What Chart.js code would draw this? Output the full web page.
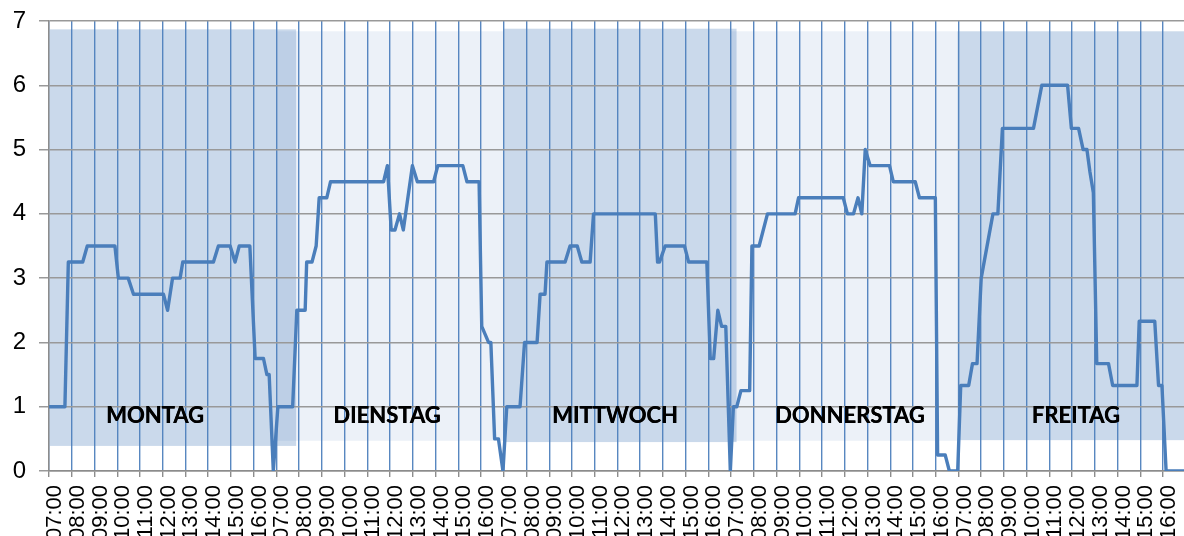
<!DOCTYPE html>
<html lang="de">
<head>
<meta charset="utf-8">
<title>Wochenverlauf</title>
<script src="https://cdn.jsdelivr.net/npm/chart.js@4.4.1/dist/chart.umd.min.js"></script>
<style>
  html, body { margin: 0; padding: 0; background: #ffffff; }
  #wrap { position: relative; width: 1184px; height: 536px; overflow: hidden; }
</style>
</head>
<body>
<div id="wrap"><canvas id="chart" width="1184" height="536"></canvas></div>
<script>
// Wochentage und Achsenbeschriftung
const tage = ['MONTAG', 'DIENSTAG', 'MITTWOCH', 'DONNERSTAG', 'FREITAG'];
const stundenLabels = ['07:00', '08:00', '09:00', '10:00', '11:00', '12:00', '13:00', '14:00', '15:00', '16:00'];
const yWerte = [0, 1, 2, 3, 4, 5, 6, 7];

// Messwerte je Tag: Uhrzeit und Wert
const montagZeit = ['07:00', '07:42', '07:51', '08:29', '08:41', '09:54', '10:03', '10:29', '10:43', '12:02', '12:13', '12:26', '12:46', '12:53', '14:14', '14:27', '14:58', '15:11', '15:22', '15:50', '16:04', '16:26', '16:35', '16:41', '16:52'];
const montagWert = [1, 1, 3.25, 3.25, 3.5, 3.5, 3, 3, 2.75, 2.75, 2.5, 3, 3, 3.25, 3.25, 3.5, 3.5, 3.25, 3.5, 3.5, 1.75, 1.75, 1.5, 1.5, 0];

const dienstagZeit = ['07:04', '07:43', '07:54', '08:16', '08:20', '08:34', '08:45', '08:53', '09:13', '09:23', '11:43', '11:53', '12:03', '12:13', '12:25', '12:35', '12:59', '13:12', '13:55', '14:06', '15:12', '15:23', '15:55', '16:02', '16:20', '16:26', '16:36', '16:46', '16:58'];
const dienstagWert = [1, 1, 2.5, 2.5, 3.25, 3.25, 3.5, 4.25, 4.25, 4.5, 4.5, 4.75, 3.75, 3.75, 4, 3.75, 4.75, 4.5, 4.5, 4.75, 4.75, 4.5, 4.5, 2.25, 2, 2, 0.5, 0.5, 0];

const mittwochZeit = ['07:08', '07:43', '07:55', '08:28', '08:36', '08:49', '08:54', '09:42', '09:55', '10:14', '10:26', '10:48', '10:57', '13:40', '13:46', '13:51', '14:06', '14:57', '15:08', '15:56', '16:05', '16:14', '16:25', '16:35', '16:46', '16:58'];
const mittwochWert = [1, 1, 2, 2, 2.75, 2.75, 3.25, 3.25, 3.5, 3.5, 3.25, 3.25, 4, 4, 3.25, 3.25, 3.5, 3.5, 3.25, 3.25, 1.75, 1.75, 2.5, 2.25, 2.25, 0];

const donnerstagZeit = ['07:06', '07:15', '07:26', '07:49', '07:55', '08:14', '08:36', '09:49', '09:58', '11:56', '12:07', '12:23', '12:35', '12:45', '12:54', '13:07', '13:58', '14:08', '15:06', '15:17', '15:59', '16:05', '16:25', '16:36', '16:58'];
const donnerstagWert = [1, 1, 1.25, 1.25, 3.5, 3.5, 4, 4, 4.25, 4.25, 4, 4, 4.25, 4, 5, 4.75, 4.75, 4.5, 4.5, 4.25, 4.25, 0.25, 0.25, 0, 0];

const freitagZeit = ['07:06', '07:27', '07:37', '07:49', '08:00', '08:31', '08:44', '08:56', '10:18', '10:40', '11:48', '11:58', '12:17', '12:29', '12:39', '12:47', '12:56', '13:05', '13:36', '13:47', '14:51', '14:57', '15:38', '15:48', '15:57', '16:08', '16:56'];
const freitagWert = [1.33, 1.33, 1.67, 1.67, 3, 4, 4, 5.33, 5.33, 6, 6, 5.33, 5.33, 5, 5, 4.65, 4.33, 1.67, 1.67, 1.33, 1.33, 2.33, 2.33, 1.33, 1.33, 0, 0];

// Hinterlegte Tagesflächen (Stunden ab Montag 07:00, Werte der y-Achse)
const flaecheVon = [0.04, 10, 20, 30, 39.95];
const flaecheBis = [10.87, 20, 30.24, 39.95, 50];
const flaecheUnten = [0.39, 0.47, 0.45, 0.47, 0.48];
const flaecheOben = [6.87, 6.84, 6.88, 6.84, 6.84];
const flaecheFarbe = ['rgba(79,129,189,0.30)', 'rgba(79,129,189,0.11)', 'rgba(79,129,189,0.30)', 'rgba(79,129,189,0.11)', 'rgba(79,129,189,0.30)'];

// Position der Tagesnamen (Stunden ab Montag 07:00, Wert)
const tagLabelX = [4.66, 14.86, 24.89, 35.22, 45.16];
const tagLabelY = [0.86, 0.86, 0.86, 0.86, 0.86];

const STUNDEN_PRO_TAG = 10;

function zuStunden(tagIndex, zeit) {
  const [h, m] = zeit.split(':').map(Number);
  return tagIndex * STUNDEN_PRO_TAG + (h + m / 60 - 7);
}

const tagesDaten = [
  [montagZeit, montagWert],
  [dienstagZeit, dienstagWert],
  [mittwochZeit, mittwochWert],
  [donnerstagZeit, donnerstagWert],
  [freitagZeit, freitagWert]
];

const punkte = [];
tagesDaten.forEach(([zeiten, werte], t) => {
  zeiten.forEach((z, i) => punkte.push({ x: zuStunden(t, z), y: werte[i] }));
});

const stundenTicks = [];
for (let i = 0; i < tage.length * STUNDEN_PRO_TAG; i++) stundenTicks.push(i);

// Tagesflächen unter dem Raster
const flaechenPlugin = {
  id: 'tagesflaechen',
  beforeDraw(chart) {
    const { ctx, scales: { x, y } } = chart;
    ctx.save();
    flaecheVon.forEach((von, i) => {
      const x0 = x.getPixelForValue(von);
      const x1 = x.getPixelForValue(flaecheBis[i]);
      const y0 = y.getPixelForValue(flaecheOben[i]);
      const y1 = y.getPixelForValue(flaecheUnten[i]);
      ctx.fillStyle = flaecheFarbe[i];
      ctx.fillRect(x0, y0, x1 - x0, y1 - y0);
    });
    ctx.restore();
  }
};

// Tagesnamen über den Flächen
const tagNamenPlugin = {
  id: 'tagnamen',
  afterDatasetsDraw(chart) {
    const { ctx, scales: { x, y } } = chart;
    ctx.save();
    ctx.font = 'bold 22px Lato, "Open Sans", sans-serif';
    ctx.fillStyle = '#000000';
    ctx.textAlign = 'center';
    ctx.textBaseline = 'middle';
    tage.forEach((name, i) => {
      const px = x.getPixelForValue(tagLabelX[i]);
      const py = y.getPixelForValue(tagLabelY[i]);
      ctx.fillText(name, px, py);
      ctx.fillText(name, px + 0.4, py);
    });
    ctx.restore();
  }
};

new Chart(document.getElementById('chart'), {
  type: 'line',
  data: {
    datasets: [{
      data: punkte,
      borderColor: '#4a7ebb',
      borderWidth: 3.4,
      borderJoinStyle: 'round',
      pointRadius: 0,
      tension: 0,
      fill: false
    }]
  },
  options: {
    responsive: false,
    animation: false,
    layout: { padding: { top: 21, right: 0, bottom: 0, left: 0 } },
    plugins: { legend: { display: false }, tooltip: { enabled: false } },
    scales: {
      x: {
        type: 'linear',
        min: 0,
        max: 49.92,
        afterFit(scale) {
          scale.height = 65;
          scale.paddingLeft = 0;
          scale.paddingRight = 0;
        },
        afterBuildTicks(scale) { scale.ticks = stundenTicks.map(v => ({ value: v })); },
        ticks: {
          autoSkip: false,
          minRotation: 90,
          maxRotation: 90,
          padding: 8,
          labelOffset: 6,
          color: '#000000',
          font: { family: '"Liberation Sans", Arial, sans-serif', size: 22 },
          callback: (v, i) => stundenLabels[i % STUNDEN_PRO_TAG]
        },
        grid: { color: 'rgba(79,129,189,0.95)', lineWidth: 1.4, tickLength: 6, tickColor: '#8c8c8c' },
        border: { color: '#8c8c8c', width: 1.5 }
      },
      y: {
        min: 0,
        max: 7,
        afterFit(scale) {
          scale.width = 49;
          scale.paddingTop = 0;
          scale.paddingBottom = 0;
        },
        afterBuildTicks(scale) { scale.ticks = yWerte.map(v => ({ value: v })); },
        ticks: {
          padding: 13,
          color: '#000000',
          font: { family: '"Liberation Sans", Arial, sans-serif', size: 24 }
        },
        grid: { color: '#999999', lineWidth: 1.5, tickLength: 10 },
        border: { color: '#8c8c8c', width: 1.5 }
      }
    }
  },
  plugins: [flaechenPlugin, tagNamenPlugin]
});
</script>
</body>
</html>
